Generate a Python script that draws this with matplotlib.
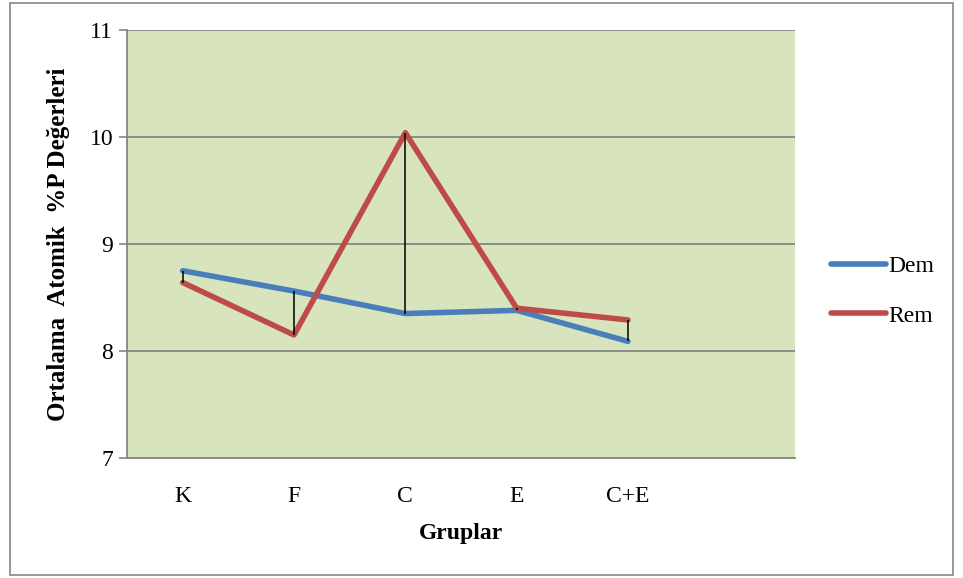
import matplotlib
matplotlib.use("Agg")
import matplotlib.pyplot as plt
from matplotlib.patches import Rectangle

categories = ["K", "F", "C", "E", "C+E", ""]
dem = [8.75, 8.56, 8.35, 8.38, 8.09]
rem = [8.64, 8.15, 10.04, 8.40, 8.29]
yticks = [7, 8, 9, 10, 11]

plt.rcParams['font.family'] = ['Liberation Serif', 'DejaVu Serif']

W, H = 963, 578
fig = plt.figure(figsize=(W / 100, H / 100), dpi=100)
fig.patch.set_facecolor("white")
fig.patches.append(Rectangle((10 / W, 3 / H), 943 / W, 572 / H, transform=fig.transFigure,
                             fill=False, edgecolor="#868686", linewidth=1.2))

ax = fig.add_axes([127 / W, 1 - 458 / H, (795 - 127) / W, (458 - 30) / H])
ax.set_facecolor("#d7e4bd")
x = list(range(len(dem)))

l1, = ax.plot(x, dem, color="#4a7ebb", linewidth=4, solid_capstyle="round",
              solid_joinstyle="round", label="Dem", zorder=4)
l2, = ax.plot(x, rem, color="#be4b48", linewidth=4, solid_capstyle="round",
              solid_joinstyle="round", label="Rem", zorder=5)
for i in x:
    ax.plot([i, i], [dem[i], rem[i]], color="black", linewidth=1.1, zorder=6,
            solid_capstyle="butt")

ax.set_xlim(-0.5, len(categories) - 0.5)
ax.set_ylim(7, 11)
ax.set_yticks(yticks)
ax.set_yticklabels([str(v) for v in yticks], fontsize=17)
ax.set_xticks(range(len(categories)))
ax.set_xticklabels(categories, fontsize=17)
ax.tick_params(axis="x", length=0, pad=20)
ax.tick_params(axis="y", length=6, color="#868686", width=1.2, pad=4)
ax.grid(axis="y", color="#868686", linewidth=1.3)
ax.set_axisbelow(True)
for s in ["top", "right"]:
    ax.spines[s].set_visible(False)
ax.spines["left"].set_color("#868686")
ax.spines["left"].set_linewidth(1.3)
ax.spines["bottom"].set_color("#868686")
ax.spines["bottom"].set_linewidth(1.3)

ax.set_xlabel("Gruplar", fontsize=17, fontweight="bold", labelpad=12)
ax.set_ylabel("Ortalama  Atomik  %P Değerleri", fontsize=18, fontweight="bold", labelpad=14)

fig.legend(handles=[l1, l2], labels=["Dem", "Rem"],
           loc="center left", bbox_to_anchor=(810 / W, 1 - 291 / H), frameon=False,
           fontsize=17, handlelength=2.3, handletextpad=0.1, labelspacing=1.2)

fig.savefig("out.png", dpi=100, facecolor="white")
